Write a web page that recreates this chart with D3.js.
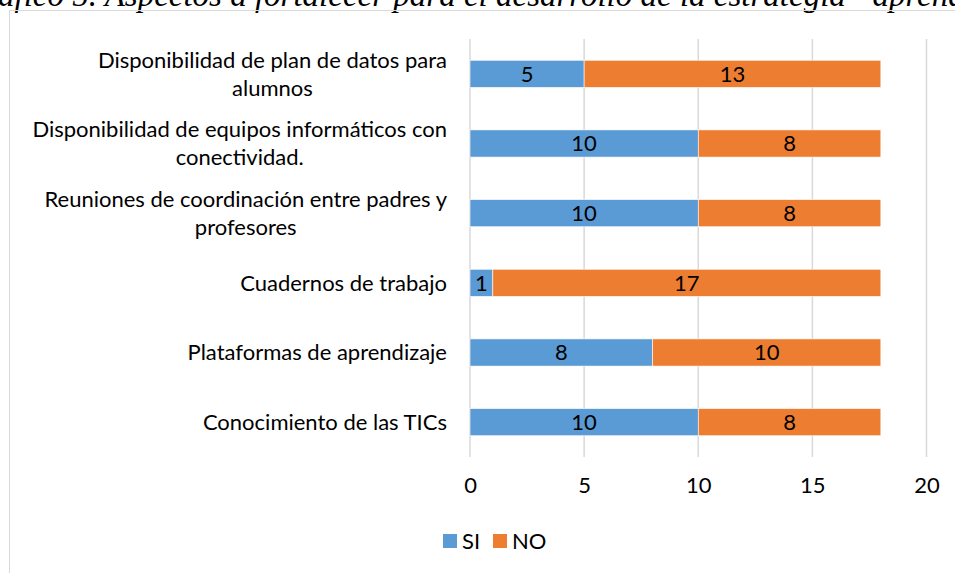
<!DOCTYPE html>
<html lang="es">
<head>
  <meta charset="UTF-8">
  <title>Aspectos a fortalecer</title>
  <style>
    body { margin: 0; background: #fff; }
    svg text { font-family: Lato, "Open Sans", sans-serif; fill: #000; }
    .caption { font-family: "Liberation Serif", "DejaVu Serif", serif; font-style: italic; }
  </style>
</head>
<body>
  <svg id="chart" width="955" height="573"></svg>

  <script src="https://cdn.jsdelivr.net/npm/d3@7"></script>
  <script>
    // chart data
    const categories = [
      ["Disponibilidad de plan de datos para", "alumnos"],
      ["Disponibilidad de equipos informáticos con", "conectividad."],
      ["Reuniones de coordinación entre padres y", "profesores"],
      ["Cuadernos de trabajo"],
      ["Plataformas de aprendizaje"],
      ["Conocimiento de las TICs"]
    ];
    const siValues = [5, 10, 10, 1, 8, 10];
    const noValues = [13, 8, 8, 17, 10, 8];
    const seriesNames = ["SI", "NO"];
    const xTicks = [0, 5, 10, 15, 20];
    const colors = ["#5B9BD5", "#ED7D31"];

    const svg = d3.select("#chart");
    const fontSize = "22px";

    // cut-off caption at the very top (page crop of the document)
    svg.append("text")
      .attr("class", "caption")
      .attr("x", -2)
      .attr("y", 6)
      .style("font-size", "33px")
      .text("áfico 5. Aspectos a fortalecer para el desarrollo de la estrategia “aprendo en casa”");

    // chart border
    svg.append("rect")
      .attr("x", 9.5).attr("y", 10.5)
      .attr("width", 960).attr("height", 580)
      .attr("fill", "none")
      .attr("stroke", "#d9d9d9");

    const plot = { left: 470, right: 926.5, top: 39, bottom: 457 };

    const x = d3.scaleLinear().domain([0, 20]).range([plot.left, plot.right]);
    const y = d3.scaleBand()
      .domain(d3.range(categories.length))
      .range([plot.top, plot.bottom])
      .paddingInner(0.61)
      .paddingOuter(0.305);

    // gridlines
    svg.append("g")
      .selectAll("line")
      .data(xTicks)
      .join("line")
      .attr("x1", d => x(d)).attr("x2", d => x(d))
      .attr("y1", plot.top).attr("y2", plot.bottom)
      .attr("stroke", "#d9d9d9")
      .attr("stroke-width", 1.5);

    // x axis labels
    const xAxis = d3.axisBottom(x).tickValues(xTicks).tickSize(0).tickPadding(0);
    svg.append("g")
      .attr("transform", `translate(0,${plot.bottom + 20})`)
      .call(xAxis)
      .call(g => g.select(".domain").remove())
      .selectAll("text")
      .attr("dy", "0.71em")
      .style("font-size", fontSize)
      .style("font-family", "Lato, sans-serif");

    // stacked bars
    const stacked = categories.map((c, i) => [
      { i, s: 0, x0: 0, x1: siValues[i], v: siValues[i] },
      { i, s: 1, x0: siValues[i], x1: siValues[i] + noValues[i], v: noValues[i] }
    ]).flat();

    svg.append("g")
      .selectAll("rect")
      .data(stacked)
      .join("rect")
      .attr("x", d => x(d.x0))
      .attr("y", d => y(d.i))
      .attr("width", d => x(d.x1) - x(d.x0))
      .attr("height", y.bandwidth())
      .attr("fill", d => colors[d.s])
      .attr("stroke", "#fff")
      .attr("stroke-width", 0.6);

    svg.append("g")
      .selectAll("text")
      .data(stacked)
      .join("text")
      .attr("x", d => (x(d.x0) + x(d.x1)) / 2)
      .attr("y", d => y(d.i) + y.bandwidth() / 2)
      .attr("text-anchor", "middle")
      .attr("dy", "0.36em")
      .style("font-size", fontSize)
      .text(d => d.v);

    // category labels (multi-line, lines centred, block right-aligned)
    const labelRight = 447;
    const lineH = 28;
    categories.forEach((lines, i) => {
      const g = svg.append("g");
      const cy = y(i) + y.bandwidth() / 2;
      const texts = lines.map((t, k) => g.append("text")
        .attr("y", cy + (k - (lines.length - 1) / 2) * lineH)
        .attr("dy", "0.36em")
        .style("font-size", fontSize)
        .text(t));
      const w = d3.max(texts, t => t.node().getComputedTextLength());
      texts.forEach(t => t.attr("x", labelRight - w / 2).attr("text-anchor", "middle"));
    });

    // legend
    const legend = svg.append("g").attr("transform", "translate(443,541)");
    const legendX = [0, 50];
    seriesNames.forEach((name, k) => {
      legend.append("rect")
        .attr("x", legendX[k]).attr("y", -7)
        .attr("width", 14).attr("height", 14)
        .attr("fill", colors[k]);
      legend.append("text")
        .attr("x", legendX[k] + 19)
        .attr("dy", "0.36em")
        .style("font-size", fontSize)
        .text(name);
    });
  </script>
</body>
</html>
